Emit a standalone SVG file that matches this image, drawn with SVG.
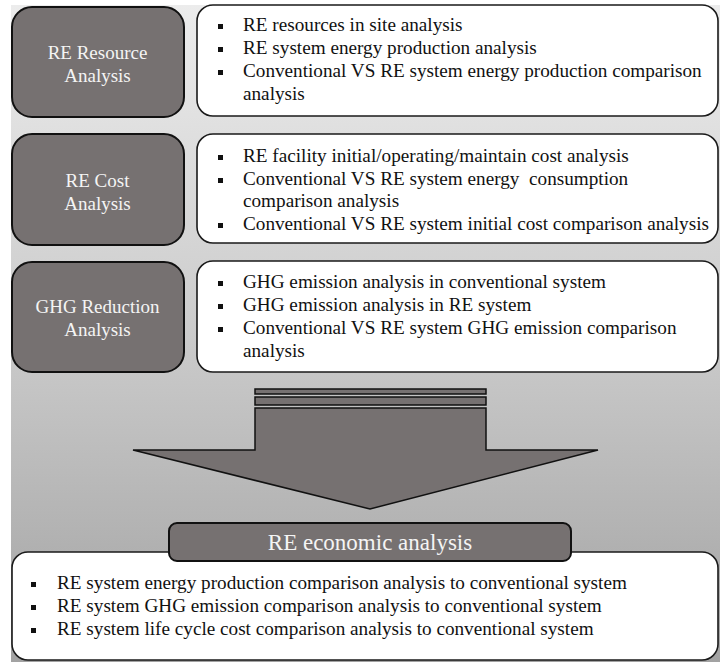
<svg xmlns="http://www.w3.org/2000/svg" width="720" height="662" viewBox="0 0 720 662">
<defs>
<linearGradient id="bg" x1="0" y1="0" x2="0" y2="1">
<stop offset="0" stop-color="#ececec"/>
<stop offset="0.5" stop-color="#cbcbcb"/>
<stop offset="1" stop-color="#a2a2a2"/>
</linearGradient>
<style>
.dark{fill:#767171;stroke:#111;stroke-width:2}
.white{fill:#fff;stroke:#1a1a1a;stroke-width:1.6}
.lbl{font-family:"Liberation Serif","Times New Roman",serif;font-size:19px;fill:#f4f4f4;text-anchor:middle}
.item{font-family:"Liberation Serif","Times New Roman",serif;font-size:19.2px;fill:#111}
.title{font-family:"Liberation Serif","Times New Roman",serif;font-size:23px;fill:#f4f4f4;text-anchor:middle}
.bul{fill:#111}
.arrow{fill:#767171;stroke:#111;stroke-width:1.5}
</style>
</defs>
<rect x="11" y="5" width="712" height="660" fill="url(#bg)"/>

<g id="connectors">
<rect class="arrow" x="255" y="389" width="231" height="5"/>
<rect class="arrow" x="255" y="397" width="231" height="8"/>
<polygon class="arrow" points="255,408 486,408 486,450 598,450 370,509 133,450 255,450"/>
</g>

<g id="node-resource">
<rect class="dark" x="12" y="7" width="172" height="110" rx="20"/>
<text class="lbl" x="97.5" y="59">RE Resource</text>
<text class="lbl" x="97.5" y="82">Analysis</text>
</g>
<g id="node-resource-items">
<rect class="white" x="197" y="5" width="521" height="111" rx="16"/>
<rect class="bul" x="218" y="24" width="5" height="5"/>
<rect class="bul" x="218" y="47" width="5" height="5"/>
<rect class="bul" x="218" y="70" width="5" height="5"/>
<text class="item" x="243" y="31">RE resources in site analysis</text>
<text class="item" x="243" y="54">RE system energy production analysis</text>
<text class="item" x="243" y="77">Conventional VS RE system energy production comparison</text>
<text class="item" x="243" y="100">analysis</text>
</g>

<g id="node-cost">
<rect class="dark" x="12" y="134" width="172" height="111" rx="20"/>
<text class="lbl" x="97.5" y="187">RE Cost</text>
<text class="lbl" x="97.5" y="210">Analysis</text>
</g>
<g id="node-cost-items">
<rect class="white" x="197" y="134" width="521" height="109" rx="16"/>
<rect class="bul" x="218" y="155" width="5" height="5"/>
<rect class="bul" x="218" y="178" width="5" height="5"/>
<rect class="bul" x="218" y="223" width="5" height="5"/>
<text class="item" x="243" y="162">RE facility initial/operating/maintain cost analysis</text>
<text class="item" x="243" y="185" xml:space="preserve">Conventional VS RE system energy  consumption</text>
<text class="item" x="243" y="207">comparison analysis</text>
<text class="item" x="243" y="230">Conventional VS RE system initial cost comparison analysis</text>
</g>

<g id="node-ghg">
<rect class="dark" x="12" y="262" width="172" height="110" rx="20"/>
<text class="lbl" x="97.5" y="313">GHG Reduction</text>
<text class="lbl" x="97.5" y="336">Analysis</text>
</g>
<g id="node-ghg-items">
<rect class="white" x="197" y="261" width="521" height="111" rx="16"/>
<rect class="bul" x="218" y="281" width="5" height="5"/>
<rect class="bul" x="218" y="304" width="5" height="5"/>
<rect class="bul" x="218" y="327" width="5" height="5"/>
<text class="item" x="243" y="288">GHG emission analysis in conventional system</text>
<text class="item" x="243" y="311">GHG emission analysis in RE system</text>
<text class="item" x="243" y="334">Conventional VS RE system GHG emission comparison</text>
<text class="item" x="243" y="357">analysis</text>
</g>

<g id="node-economic-items">
<rect class="white" x="12" y="552" width="706" height="108" rx="16"/>
<rect class="bul" x="31" y="582" width="5" height="5"/>
<rect class="bul" x="31" y="605" width="5" height="5"/>
<rect class="bul" x="31" y="628" width="5" height="5"/>
<text class="item" x="57" y="589">RE system energy production comparison analysis to conventional system</text>
<text class="item" x="57" y="612">RE system GHG emission comparison analysis to conventional system</text>
<text class="item" x="57" y="635">RE system life cycle cost comparison analysis to conventional system</text>
</g>

<g id="node-economic">
<rect class="dark" x="169" y="523" width="402" height="38" rx="8"/>
<text class="title" x="370" y="550">RE economic analysis</text>
</g>
</svg>
